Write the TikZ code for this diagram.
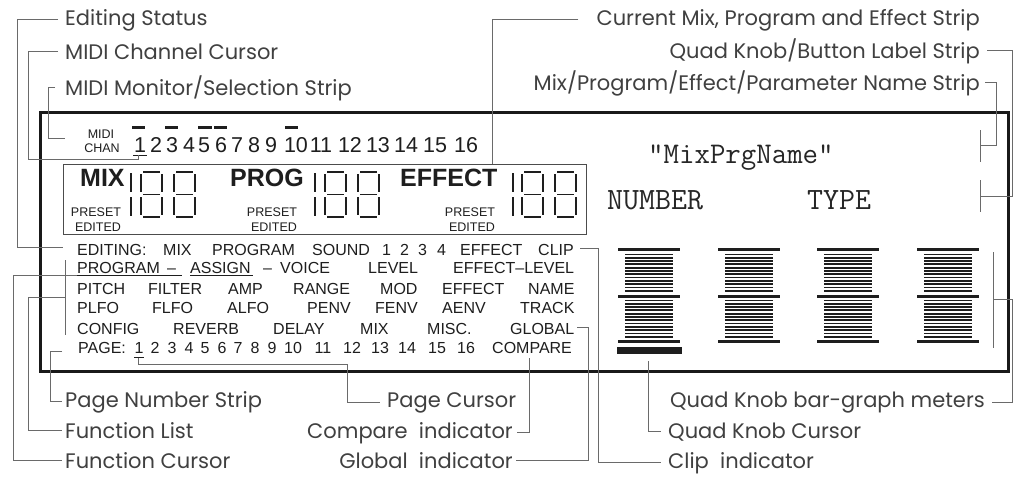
\documentclass[tikz,border=0pt]{standalone}
\usepackage{fontspec}
\newfontfamily\lblfont{Poppins}
\newfontfamily\dispfont{Liberation Sans}
\definecolor{lblcol}{HTML}{404040}
\definecolor{leadcol}{HTML}{6A6A6A}
\definecolor{dispcol}{HTML}{1E1E1E}
\tikzset{
  lbl/.style={inner sep=0pt, anchor=base west, text=lblcol, font=\lblfont\fontsize{21}{24}\selectfont},
  lblr/.style={lbl, anchor=base east},
  disp/.style={inner sep=0pt, anchor=base west, text=dispcol, font=\dispfont\fontsize{16}{19}\selectfont},
  dispc/.style={disp, anchor=base},
  midinum/.style={inner sep=0pt, anchor=base, text=dispcol, font=\dispfont\fontsize{21.5}{24}\selectfont},
  tiny/.style={inner sep=0pt, anchor=base, text=dispcol, font=\dispfont\fontsize{12.5}{14}\selectfont},
  big/.style={inner sep=0pt, anchor=base west, text=dispcol, font=\dispfont\bfseries\fontsize{25}{28}\selectfont},
  mono/.style={inner sep=0pt, anchor=base west, text=black!85, font=\ttfamily\fontsize{30}{32}\selectfont},
  leader/.style={draw=leadcol, line width=1pt},
  seg/.style={draw=dispcol, line width=1.3pt},
}
\begin{document}
\begin{tikzpicture}[x=1pt,y=-1pt]
\fill[white] (0,0) rectangle (1013,477);
\useasboundingbox (0,0) rectangle (1013,477);

% outer and inner boxes
\draw[line width=3pt, draw=black!90] (40,112.5) rectangle (1008,371.5);
\draw[line width=1pt, draw=black!70] (63,164) rectangle (586,234);

% MIDI channel strip
\node[tiny] (midi) at (101,138) {MIDI};
\node[tiny] (chan) at (102,152) {CHAN};
\foreach \t/\x [count=\i] in {1/140,2/156,3/172,4/189,5/204,6/221,7/237,8/254,9/271,10/296,11/321,12/350,13/378,14/406,15/435,16/466}
  \node[midinum] (m\i) at (\x,152) {\t};
\foreach \a/\b in {132/145,165/178,198/212,214/227,285/298}
  \fill[dispcol] (\a,125.5) rectangle (\b,128.5);
\draw[dispcol, line width=1pt] (133,155) -- (147,155);
\coordinate (mUnd) at (138,155);

% MIX / PROG / EFFECT strip
\node[big] (mix) at (80,186) {MIX};
\node[big] (prog) at (230,186) {PROG};
\node[big] (eff) at (400,186) {EFFECT};
\foreach \x/\n in {96/a,272/b,470/c}{
  \node[tiny] (pre\n) at (\x,216.5) {PRESET};
  \node[tiny] (edi\n) at (\x+2,231.5) {EDITED};
}
\foreach \s in {131,315,513}{
  \draw[seg] (\s,173) -- (\s,192);
  \draw[seg] (\s,197) -- (\s,216);
}
\foreach \x in {141,174,325,358,522,555}{
  \draw[seg] (\x+2,172) -- (\x+19,172);
  \draw[seg] (\x,174) -- (\x,192);
  \draw[seg] (\x+21,174) -- (\x+21,192);
  \draw[seg] (\x+2,194.5) -- (\x+19,194.5);
  \draw[seg] (\x,197) -- (\x,215);
  \draw[seg] (\x+21,197) -- (\x+21,215);
  \draw[seg] (\x+2,217) -- (\x+19,217);
}

% function rows
\foreach \t/\x [count=\i] in {EDITING:/77,MIX/163,PROGRAM/212,SOUND/312,1/382,2/400,3/418,4/437,EFFECT/460,CLIP/538}
  \node[disp] (ra\i) at (\x,255.7) {\t};
\foreach \t/\x [count=\i] in {PROGRAM/77,–/167,ASSIGN/190,–/263,VOICE/280,LEVEL/368,EFFECT–LEVEL/453}
  \node[disp] (rb\i) at (\x,273.7) {\t};
\foreach \t/\x [count=\i] in {PITCH/77,FILTER/148,AMP/228,RANGE/293,MOD/380,EFFECT/442,NAME/528}
  \node[disp] (rc\i) at (\x,294.7) {\t};
\foreach \t/\x [count=\i] in {PLFO/77,FLFO/152,ALFO/227,PENV/307,FENV/375,AENV/442,TRACK/520}
  \node[disp] (rd\i) at (\x,313.7) {\t};
\foreach \t/\x [count=\i] in {CONFIG/77,REVERB/173,DELAY/273,MIX/360,MISC./427,GLOBAL/510}
  \node[disp] (re\i) at (\x,334.7) {\t};
\node[disp] (page) at (78,353.7) {PAGE:};
\foreach \t/\x [count=\i] in {1/139,2/155,3/172,4/189,5/205,6/222,7/238,8/255,9/272,10/293,11/323,12/352,13/380,14/407,15/437,16/466}
  \node[dispc] (pg\i) at (\x,353.7) {\t};
\node[disp] (compare) at (492,353.7) {COMPARE};
\draw[dispcol, line width=1pt] (77,275) -- (182,275);
\draw[dispcol, line width=1pt] (190,275) -- (253,275);
\draw[dispcol, line width=1pt] (134,357.5) -- (144,357.5);

% right panel
\node[mono] (name) at (648,163) {"MixPrgName"};
\node[mono, font=\ttfamily\fontsize{31}{32}\selectfont] (number) at (607,209) {NUMBER};
\node[mono, font=\ttfamily\fontsize{31}{32}\selectfont] (type) at (807,209) {TYPE};
\foreach \c in {649,748.5,848,947.5}{
  \fill[dispcol] (\c-31,248) rectangle (\c+31,251);
  \fill[dispcol] (\c-31,294.5) rectangle (\c+31,297.5);
  \fill[dispcol] (\c-31,339.5) rectangle (\c+31,342.5);
  \foreach \j in {0,...,11}{
    \fill[dispcol] (\c-24,253.5+\j*3.3) rectangle (\c+24,255.3+\j*3.3);
    \fill[dispcol] (\c-24,299.5+\j*3.3) rectangle (\c+24,301.3+\j*3.3);
  }
}
\fill[dispcol] (617,347) rectangle (682,354);

% labels
\node[lbl] (lEdit) at (65,25) {Editing Status};
\node[lbl] (lMidiCur) at (65,59) {MIDI Channel Cursor};
\node[lbl] (lMidiMon) at (65,95) {MIDI Monitor/Selection Strip};
\node[lblr] (lCur) at (980,25) {Current Mix, Program and Effect Strip};
\node[lblr] (lQuadLbl) at (980,58) {Quad Knob/Button Label Strip};
\node[lblr] (lName) at (980,90) {Mix/Program/Effect/Parameter Name Strip};
\node[lbl] (lPageNum) at (65,407) {Page Number Strip};
\node[lbl] (lFuncList) at (65,438) {Function List};
\node[lbl] (lFuncCur) at (65,468) {Function Cursor};
\node[lbl] (lPageCur) at (387,407) {Page Cursor};
\node[lblr] (lCompare) at (513,438) {Compare\ \ indicator};
\node[lblr] (lGlobal) at (513,468) {Global\ \ indicator};
\node[lblr] (lMeters) at (985,407) {Quad Knob bar-graph meters};
\node[lbl] (lKnobCur) at (668,438) {Quad Knob Cursor};
\node[lbl] (lClip) at (668,468) {Clip\ \ indicator};

% target coordinates
\coordinate (cEdit) at (63,247);
\coordinate (cMon) at (65,138);
\coordinate (cStrip) at (492,164);
\coordinate (cFunc) at (65,297);
\coordinate (cFcur) at (77,275);
\coordinate (cPage) at (62,351);
\coordinate (cPgUnd) at (138,357.5);
\coordinate (cCompare) at (529,358);
\coordinate (cGlobal) at (577,327);
\coordinate (cClip) at (580,248);
\coordinate (cKnob) at (648,361);

% leaders
\draw[leader] ([xshift=-7pt]lEdit.west) -| (17,247) -- (cEdit);
\draw[leader] ([xshift=-7pt]lMidiCur.west) -| (28,159) -| (mUnd);
\draw[leader] ([xshift=-10pt]lMidiMon.west) -| (48,138) -- (cMon);
\draw[leader] ([xshift=-18pt]lCur.west) -| (cStrip);
\draw[leader] ([xshift=7pt]lQuadLbl.east) -| (1012,196) -- (980,196);
\draw[leader] (980,180) -- (980,212);
\draw[leader] ([xshift=5pt]lName.east) -| (996,145) -- (980,145);
\draw[leader] (980,130) -- (980,162);
\draw[leader] ([xshift=7pt]lMeters.east) -| (1012,299) -- (993,299);
\draw[leader] (993,252) -- (993,348);
\draw[leader] (cKnob) |- ([xshift=-7pt]lKnobCur.west);
\draw[leader] (cClip) -- (598,248) |- ([xshift=-7pt]lClip.west);
\draw[leader] (cGlobal) -- (588,327) |- ([xshift=3pt]lGlobal.east);
\draw[leader] (cCompare) |- ([xshift=4pt]lCompare.east);
\draw[leader] (cPgUnd) -- (138,364) -- (347,364) |- ([xshift=-7pt]lPageCur.west);
\draw[leader] (cPage) -- (50,351) |- ([xshift=-3pt]lPageNum.west);
\draw[leader] (65,260) -- (65,335);
\draw[leader] (cFunc) -- (28,297) |- ([xshift=-3pt]lFuncList.west);
\draw[leader] (cFcur) -- (13,275) |- ([xshift=-3pt]lFuncCur.west);
\end{tikzpicture}
\end{document}
